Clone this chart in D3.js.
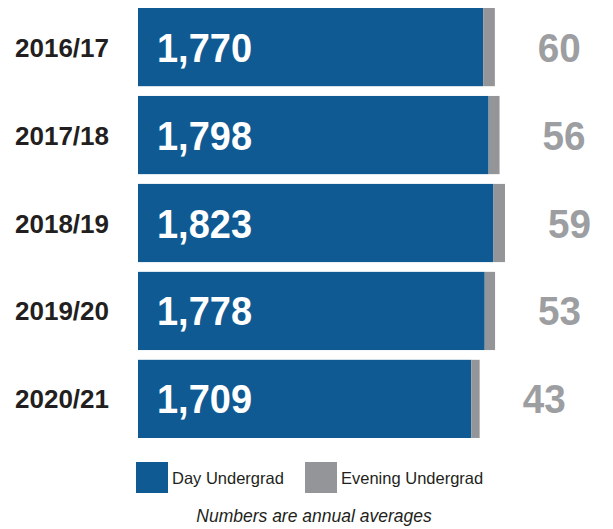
<!DOCTYPE html>
<html><head><meta charset="utf-8">
<script src="https://cdn.jsdelivr.net/npm/d3@7"></script>
<style>body{margin:0;background:#fff}svg{display:block}</style>
</head><body>
<script>
const years = ["2016/17","2017/18","2018/19","2019/20","2020/21"];
const dayUndergrad = [1770,1798,1823,1778,1709];
const eveningUndergrad = [60,56,59,53,43];
const seriesNames = ["Day Undergrad","Evening Undergrad"];
const footnote = "Numbers are annual averages";

const W = 613, H = 529;
const blue = "#105a94", grey = "#949599", greyText = "#9c9ea1";
const svg = d3.select("body").append("svg").attr("width", W).attr("height", H);

const data = years.map((y,i)=>({year:y, day:dayUndergrad[i], eve:eveningUndergrad[i]}));
const stack = d3.stack().keys(["day","eve"])(data);

const x = d3.scaleLinear().domain([0, 1882]).range([138, 505]);
const y = d3.scaleBand().domain(years).range([8, 438]).paddingInner(0.111).paddingOuter(0);
const colors = [blue, grey];

stack.forEach((s, k) => {
  svg.append("g").selectAll("rect").data(s).join("rect")
    .attr("x", d => x(d[0]))
    .attr("y", d => y(d.data.year))
    .attr("width", d => x(d[1]) - x(d[0]))
    .attr("height", y.bandwidth())
    .attr("fill", colors[k]);
});

const fmt = d3.format(",");
const ff = "Liberation Sans, Arial, sans-serif";
// year labels
svg.append("g").selectAll("text").data(data).join("text")
  .attr("x", 15).attr("y", d => y(d.year) + y.bandwidth()/2 + 9.5)
  .attr("font-family",ff)
  .attr("font-weight","bold").attr("font-size",26).attr("fill","#231f20")
  .text(d => d.year);
// day values
svg.append("g").selectAll("text").data(data).join("text")
  .attr("x", 157).attr("y", d => y(d.year) + y.bandwidth()/2 + 14.5)
  .attr("font-family",ff)
  .attr("font-weight","bold").attr("font-size",41).attr("fill","#fff")
  .attr("textLength", 95).attr("lengthAdjust","spacingAndGlyphs")
  .text(d => fmt(d.day));
// evening values
svg.append("g").selectAll("text").data(data).join("text")
  .attr("x", d => x(d.day + d.eve) + 43).attr("y", d => y(d.year) + y.bandwidth()/2 + 14.5)
  .attr("font-family",ff)
  .attr("font-weight","bold").attr("font-size",41).attr("fill",greyText)
  .attr("textLength", 43).attr("lengthAdjust","spacingAndGlyphs")
  .text(d => d.eve);

// legend
const lg = svg.append("g");
const legendX = [136, 305];
seriesNames.forEach((n,i) => {
  lg.append("rect").attr("x", legendX[i]).attr("y", 462).attr("width", 32).attr("height", 31).attr("fill", colors[i]);
  lg.append("text").attr("x", legendX[i] + 36).attr("y", 483.5)
    .attr("font-family",ff).attr("font-size",16.5).attr("fill","#231f20")
    .text(n);
});
svg.append("text").attr("x", 314).attr("y", 522).attr("text-anchor","middle")
  .attr("font-family",ff).attr("font-size",17.5)
  .attr("font-style","italic").attr("fill","#231f20").text(footnote);
</script>
</body></html>
